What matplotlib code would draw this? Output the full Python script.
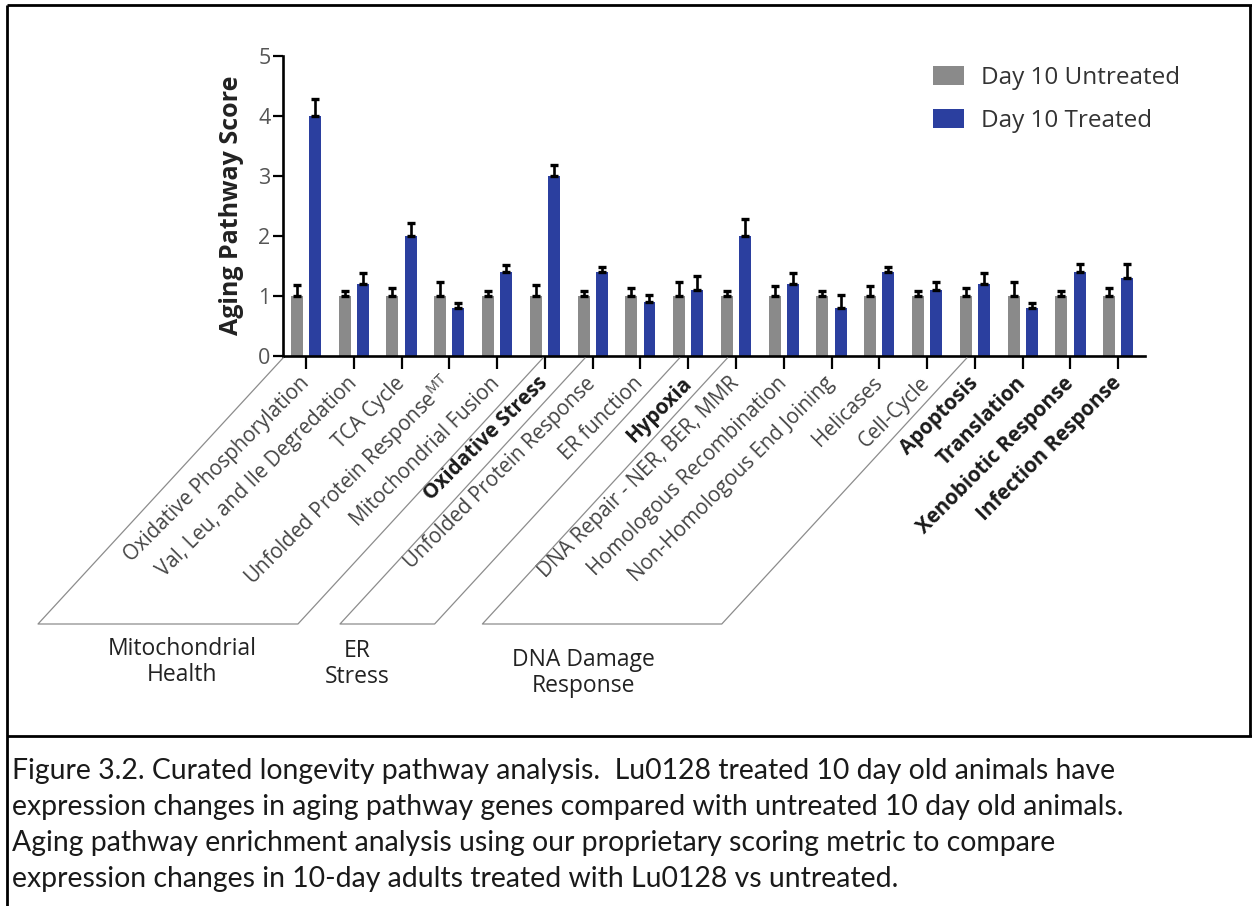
import matplotlib
matplotlib.use("Agg")
import matplotlib.pyplot as plt
from matplotlib.lines import Line2D
from matplotlib.patches import Patch
import numpy as np

# ---------------- data ----------------
categories = ["Oxidative Phosphorylation", "Val, Leu, and Ile Degredation", "TCA Cycle",
              "Unfolded Protein Response$^{\\mathregular{MT}}$", "Mitochondrial Fusion",
              "Oxidative Stress", "Unfolded Protein Response", "ER function", "Hypoxia",
              "DNA Repair - NER, BER, MMR", "Homologous Recombination",
              "Non-Homologous End Joining", "Helicases", "Cell-Cycle", "Apoptosis",
              "Translation", "Xenobiotic Response", "Infection Response"]
bold_labels = ["Oxidative Stress", "Hypoxia", "Apoptosis", "Translation",
               "Xenobiotic Response", "Infection Response"]
untreated = [1.0, 1.0, 1.0, 1.0, 1.0, 1.0, 1.0, 1.0, 1.0,
             1.0, 1.0, 1.0, 1.0, 1.0, 1.0, 1.0, 1.0, 1.0]
untreated_err = [0.18, 0.08, 0.13, 0.23, 0.08, 0.18, 0.08, 0.13, 0.23,
                 0.08, 0.17, 0.08, 0.17, 0.08, 0.13, 0.23, 0.08, 0.13]
treated = [4.0, 1.2, 2.0, 0.8, 1.4, 3.0, 1.4, 0.9, 1.1,
           2.0, 1.2, 0.8, 1.4, 1.1, 1.2, 0.8, 1.4, 1.3]
treated_err = [0.28, 0.18, 0.22, 0.08, 0.12, 0.18, 0.08, 0.12, 0.23,
               0.28, 0.18, 0.22, 0.08, 0.13, 0.18, 0.08, 0.13, 0.23]
series_names = ["Day 10 Untreated", "Day 10 Treated"]
yticks = [0, 1, 2, 3, 4, 5]
ylabel = "Aging Pathway Score"
group_names = ["Mitochondrial\nHealth", "ER\nStress", "DNA Damage\nResponse"]
group_left = [-0.48, 5.84, 8.82]
group_right = [4.96, 7.82, 13.83]
caption_lines = [
    "Figure 3.2. Curated longevity pathway analysis.  Lu0128 treated 10 day old animals have",
    "expression changes in aging pathway genes compared with untreated 10 day old animals.",
    "Aging pathway enrichment analysis using our proprietary scoring metric to compare",
    "expression changes in 10-day adults treated with Lu0128 vs untreated.",
]

# ---------------- style ----------------
plt.rcParams['font.family'] = ['Open Sans', 'DejaVu Sans']
plt.rcParams['mathtext.fontset'] = 'custom'
plt.rcParams['mathtext.rm'] = 'Open Sans'

W, H = 1252, 906
fig = plt.figure(figsize=(W / 100, H / 100), dpi=100)
fig.patch.set_facecolor('white')

def fx(px):
    return px / W

def fy(py_top):
    return 1 - py_top / H

ax_left, ax_right, ax_y0, ax_y5 = 283, 1145, 356, 56
ax = fig.add_axes([fx(ax_left), fy(ax_y0), (ax_right - ax_left) / W, (ax_y0 - ax_y5) / H])

GRAY = '#8a8a8a'
BLUE = '#2b3f9f'
x = np.arange(len(categories))
bw = 0.25
off = 0.19
ekw = dict(ecolor='black', elinewidth=1.9, capsize=3.0, capthick=2.4)
ax.bar(x - off, untreated, bw, color=GRAY, label=series_names[0],
       yerr=[np.zeros(len(x)), untreated_err], error_kw=ekw, zorder=2)
ax.bar(x + off, treated, bw, color=BLUE, label=series_names[1],
       yerr=[np.zeros(len(x)), treated_err], error_kw=ekw, zorder=2)

ax.set_xlim(-0.48, 17.56)
ax.set_ylim(0, 5)
for s in ['top', 'right']:
    ax.spines[s].set_visible(False)
for s in ['left', 'bottom']:
    ax.spines[s].set_linewidth(1.9)
ax.set_yticks(yticks)
ax.set_yticklabels([str(t) for t in yticks], fontsize=15.5, color='#555555')
ax.tick_params(axis='y', length=7, width=1.6, pad=2)
ax.tick_params(axis='x', length=9.5, width=1.6, pad=8)
ax.set_xticks(x)
ax.set_xticklabels(categories, rotation=45, ha='right', va='center',
                   rotation_mode='anchor', fontsize=14.8)
for lab in ax.get_xticklabels():
    txt = lab.get_text()
    if txt in bold_labels:
        lab.set_fontweight('bold')
        lab.set_color('#1a1a1a')
    else:
        lab.set_color('#444444')

fig.text(fx(231), fy(205), ylabel, rotation=90, ha='center', va='center',
         fontsize=18, fontweight='bold', color='#222222')

# legend
leg = ax.legend(handles=[Patch(facecolor=GRAY), Patch(facecolor=BLUE)], labels=series_names,
                loc='upper left', bbox_to_anchor=(fx(933), fy(66)),
                bbox_transform=fig.transFigure, frameon=False, fontsize=17.5,
                handlelength=1.27, handleheight=0.85, handletextpad=0.7,
                labelspacing=0.78, borderpad=0, borderaxespad=0)
for t in leg.get_texts():
    t.set_color('#333333')

# group brackets (parallelograms below the axis)
ddx, ddy = -245, -268
for name, gl, gr in zip(group_names, group_left, group_right):
    p1 = ax.transData.transform((gl, 0))
    p2 = ax.transData.transform((gr, 0))
    pts = [(p1[0], p1[1] - 2), (p1[0] + ddx, p1[1] + ddy),
           (p2[0] + ddx, p2[1] + ddy), (p2[0], p2[1] - 2)]
    xs = [p[0] / W for p in pts]
    ys = [p[1] / H for p in pts]
    fig.add_artist(Line2D(xs, ys, transform=fig.transFigure, color='#8c8c8c', lw=0.9))

group_label_pos = [(182, 662), (357, 664), (583, 673)]
for name, (gx, gy) in zip(group_names, group_label_pos):
    fig.text(fx(gx), fy(gy), name, ha='center', va='center', fontsize=16.5,
             color='#222222', linespacing=1.15)

# frame / caption box
frame_kw = dict(transform=fig.transFigure, color='black', lw=2.0, solid_capstyle='butt')
fig.add_artist(Line2D([fx(7), 1], [fy(5), fy(5)], **frame_kw))
fig.add_artist(Line2D([fx(7), fx(7)], [fy(5), 0], **frame_kw))
fig.add_artist(Line2D([fx(1250), fx(1250)], [fy(5), fy(736)], **frame_kw))
fig.add_artist(Line2D([fx(7), 1], [fy(736), fy(736)], **frame_kw))

baselines = [779, 815, 851, 887]
for line, b in zip(caption_lines, baselines):
    fig.text(fx(12), fy(b), line, ha='left', va='baseline', fontsize=20.4,
             family=['Lato', 'DejaVu Sans'], color='#1a1a1a')

fig.savefig('out.png', dpi=100, facecolor='white')
